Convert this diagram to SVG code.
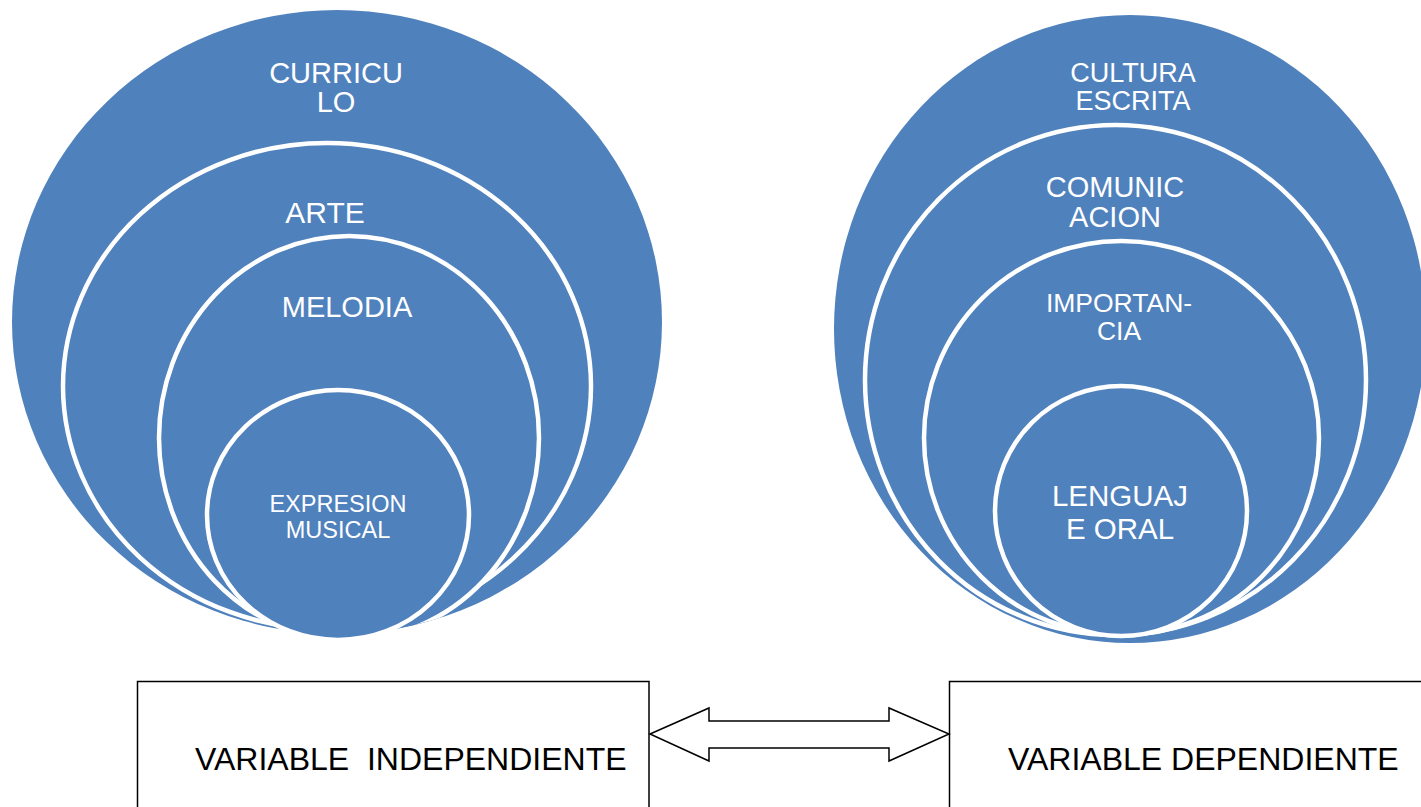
<svg xmlns="http://www.w3.org/2000/svg" width="1421" height="807" viewBox="0 0 1421 807">
<style>
.b{fill:#4F81BD;}
.s{fill:#4F81BD;stroke:#FFFFFF;stroke-width:4.5;}
.t{fill:#FFFFFF;font-family:"Liberation Sans",Arial,sans-serif;text-anchor:middle;}
.k{fill:#000000;font-family:"Liberation Sans",Arial,sans-serif;font-size:32px;white-space:pre;}
.box{fill:#FFFFFF;stroke:#000000;stroke-width:1.5;}
</style>
<defs>
<clipPath id="clipL"><ellipse cx="337" cy="322" rx="325" ry="312"/></clipPath>
</defs>
<rect width="1421" height="807" fill="#FFFFFF"/>
<g id="curriculo">
<ellipse class="b" cx="337" cy="322" rx="325" ry="312"/>
<text class="t" font-size="29" x="336" y="83">CURRICU</text>
<text class="t" font-size="29" x="336" y="112">LO</text>
</g>
<g id="arte" clip-path="url(#clipL)">
<ellipse class="s" cx="327" cy="386" rx="264" ry="243"/>
<text class="t" font-size="30" x="325" y="223">ARTE</text>
</g>
<g id="melodia" clip-path="url(#clipL)">
<ellipse class="s" cx="349" cy="438" rx="190" ry="202"/>
<text class="t" font-size="29" x="347" y="317">MELODIA</text>
</g>
<g id="expresion">
<ellipse class="s" cx="338" cy="515" rx="131" ry="125"/>
<text class="t" font-size="23.5" x="338" y="512">EXPRESION</text>
<text class="t" font-size="23.5" x="338" y="538">MUSICAL</text>
</g>
<g id="cultura">
<ellipse class="b" cx="1130" cy="329" rx="296" ry="314"/>
<text class="t" font-size="27" x="1133" y="82">CULTURA</text>
<text class="t" font-size="27" x="1133" y="110">ESCRITA</text>
</g>
<g id="comunicacion">
<ellipse class="s" cx="1115.5" cy="380" rx="250.5" ry="255"/>
<text class="t" font-size="29" x="1115" y="197">COMUNIC</text>
<text class="t" font-size="29" x="1115" y="227">ACION</text>
</g>
<g id="importancia">
<ellipse class="s" cx="1121.5" cy="438" rx="197.5" ry="197"/>
<text class="t" font-size="26.5" x="1119" y="312">IMPORTAN-</text>
<text class="t" font-size="26.5" x="1119" y="340">CIA</text>
</g>
<g id="lenguaje">
<ellipse class="s" cx="1121" cy="511" rx="126" ry="125"/>
<text class="t" font-size="29.5" x="1120" y="506">LENGUAJ</text>
<text class="t" font-size="29.5" x="1120" y="539">E ORAL</text>
</g>
<g id="var-independiente">
<rect class="box" x="137.5" y="681.5" width="511.5" height="140"/>
<text class="k" x="195" y="770" xml:space="preserve">VARIABLE  INDEPENDIENTE</text>
</g>
<g id="var-dependiente">
<rect class="box" x="949.5" y="681.5" width="500" height="140"/>
<text class="k" x="1008" y="770">VARIABLE DEPENDIENTE</text>
</g>
<g id="connectors">
<polygon class="box" points="650,734 709,708 709,721 889,721 889,708 949,734 889,761 889,748 709,748 709,761"/>
</g>
</svg>
